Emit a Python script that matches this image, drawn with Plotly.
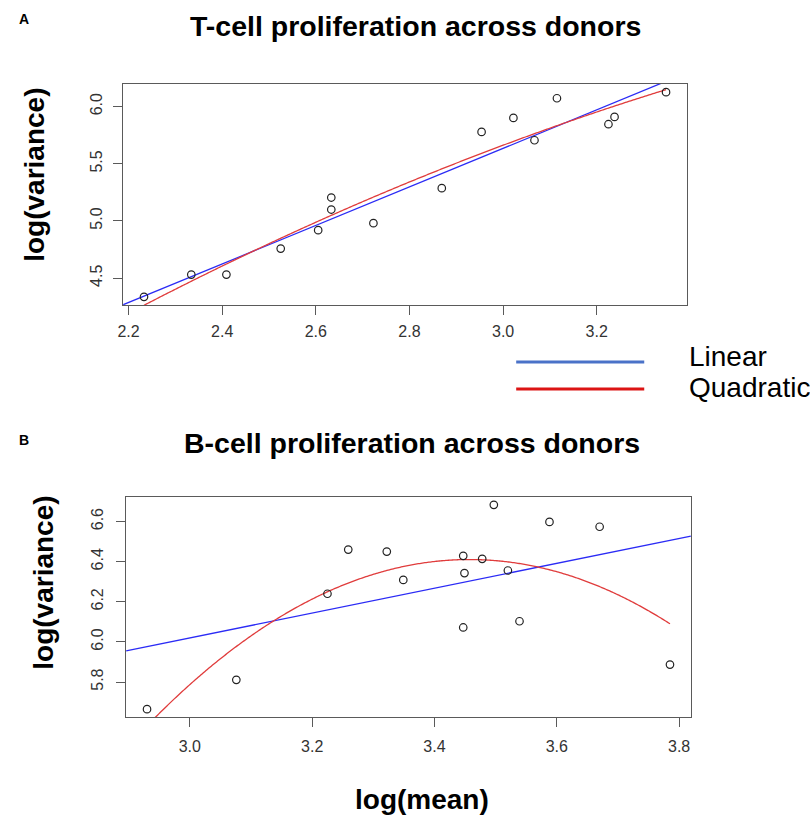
import numpy as np
import plotly.graph_objects as go

# ---- Data ----
t_log_mean = [2.233, 2.334, 2.409, 2.525, 2.605, 2.633, 2.633, 2.723,
              2.869, 2.954, 3.022, 3.067, 3.115, 3.225, 3.238, 3.348]
t_log_var = [4.337, 4.531, 4.531, 4.759, 4.920, 5.205, 5.100, 4.981,
             5.287, 5.779, 5.901, 5.706, 6.073, 5.846, 5.910, 6.126]

b_log_mean = [2.930, 3.076, 3.225, 3.259, 3.322, 3.349, 3.447, 3.449,
              3.447, 3.478, 3.497, 3.520, 3.539, 3.588, 3.670, 3.785]
b_log_var = [5.665, 5.811, 6.240, 6.460, 6.450, 6.309, 6.429, 6.343,
             6.072, 6.414, 6.683, 6.356, 6.103, 6.598, 6.574, 5.887]

t_xticks = [2.2, 2.4, 2.6, 2.8, 3.0, 3.2]
t_yticks = [4.5, 5.0, 5.5, 6.0]
b_xticks = [3.0, 3.2, 3.4, 3.6, 3.8]
b_yticks = [5.8, 6.0, 6.2, 6.4, 6.6]

W, H = 810, 816


def rrange(v):
    v = np.asarray(v, float)
    span = v.max() - v.min()
    return [v.min() - 0.04 * span, v.max() + 0.04 * span]


def px(x):
    return x / W


def py(y):
    return 1 - y / H


fig = go.Figure()

BLUE = "#2b2bf5"
RED = "#e03c3c"


def add_panel(xs, ys, xa, ya):
    xs = np.asarray(xs, float)
    ys = np.asarray(ys, float)
    xr = rrange(xs)
    lin = np.polyfit(xs, ys, 1)
    quad = np.polyfit(xs, ys, 2)
    xl = np.array(xr)
    fig.add_trace(go.Scatter(x=xl, y=np.polyval(lin, xl), mode="lines",
                             line=dict(color=BLUE, width=1.3),
                             xaxis=xa, yaxis=ya, showlegend=False))
    xq = np.linspace(xs.min(), xs.max(), 400)
    fig.add_trace(go.Scatter(x=xq, y=np.polyval(quad, xq), mode="lines",
                             line=dict(color=RED, width=1.3, simplify=False),
                             xaxis=xa, yaxis=ya, showlegend=False))
    fig.add_trace(go.Scatter(x=xs, y=ys, mode="markers",
                             marker=dict(symbol="circle-open", size=7.5,
                                         color="#222222",
                                         line=dict(width=1.2, color="#222222")),
                             xaxis=xa, yaxis=ya, showlegend=False))
    return xr


t_xr = add_panel(t_log_mean, t_log_var, "x", "y")
b_xr = add_panel(b_log_mean, b_log_var, "x2", "y2")

axis_common = dict(showline=True, mirror=True, linecolor="#5a5a5a", linewidth=1.3,
                   ticks="outside", ticklen=9, tickwidth=1.2, tickcolor="#5a5a5a",
                   showgrid=False, zeroline=False,
                   tickfont=dict(family="Liberation Sans, Arial", size=16, color="#333333"))

fig.update_layout(
    width=W, height=H,
    margin=dict(l=0, r=0, t=0, b=0),
    paper_bgcolor="white", plot_bgcolor="white",
    showlegend=False,
    xaxis=dict(domain=[px(118), px(686)], range=t_xr, tickvals=t_xticks,
               ticktext=[f"{v:.1f}" for v in t_xticks], anchor="y",
               ticklabelstandoff=3, **axis_common),
    yaxis=dict(domain=[py(305), py(84)], range=rrange(t_log_var), tickvals=t_yticks,
               ticktext=[f"{v:.1f}" for v in t_yticks], anchor="x",
               tickangle=-90, ticklabelstandoff=5, **axis_common),
    xaxis2=dict(domain=[px(121), px(690)], range=b_xr, tickvals=b_xticks,
                ticktext=[f"{v:.1f}" for v in b_xticks], anchor="y2",
                ticklabelstandoff=5, **axis_common),
    yaxis2=dict(domain=[py(717.3), py(496.7)], range=rrange(b_log_var), tickvals=b_yticks,
                ticktext=[f"{v:.1f}" for v in b_yticks], anchor="x2",
                tickangle=-90, ticklabelstandoff=7, **axis_common),
)

FONT = "Liberation Sans, Arial, Helvetica"
ann = []


def text(x, y, s, size, bold=False, angle=0, xanchor="center", color="#000000"):
    ann.append(dict(x=px(x), y=py(y), xref="paper", yref="paper",
                    text=f"<b>{s}</b>" if bold else s, showarrow=False,
                    textangle=angle, xanchor=xanchor, yanchor="middle",
                    font=dict(family=FONT, size=size, color=color)))


text(18, 19, "A", 14, bold=True)
text(18.5, 440, "B", 14, bold=True)
text(413, 26, "T-cell proliferation across donors", 28.5, bold=True)
text(409, 443, "B-cell proliferation across donors", 28.5, bold=True)
text(28, 175, "log(variance)", 28, bold=True, angle=-90)
text(37, 583, "log(variance)", 28, bold=True, angle=-90)
text(419, 799, "log(mean)", 28, bold=True)
text(686, 356, "Linear", 28, xanchor="left")
text(686, 387, "Quadratic", 28, xanchor="left")

shapes = [
    dict(type="line", xref="paper", yref="paper", x0=px(514), x1=px(643),
         y0=py(362), y1=py(362), line=dict(color="#4a72c8", width=3)),
    dict(type="line", xref="paper", yref="paper", x0=px(514), x1=px(643),
         y0=py(389), y1=py(389), line=dict(color="#dc1414", width=3)),
]

fig.update_layout(annotations=ann, shapes=shapes)

fig.write_html("out.html",
               config={"displayModeBar": False},
               post_script="document.body.style.margin='0';"
                           "document.body.style.overflow='hidden';")
